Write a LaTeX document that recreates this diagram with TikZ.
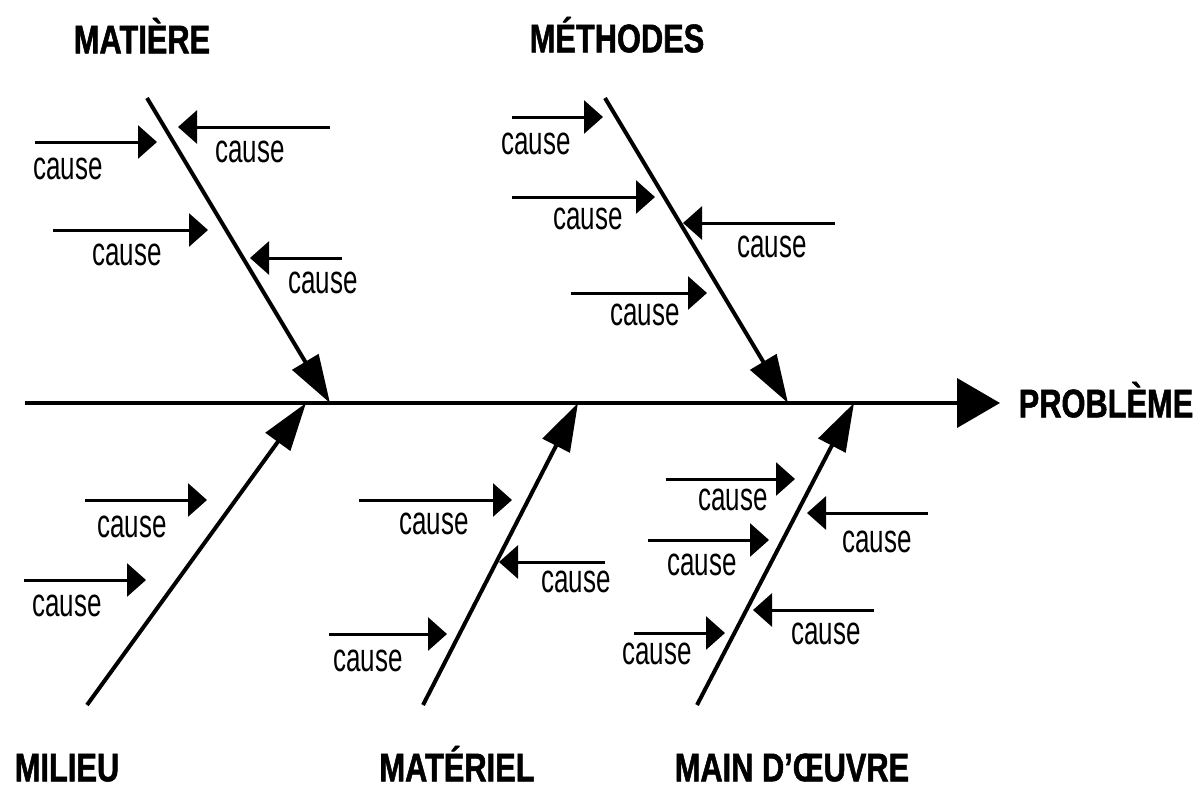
\documentclass[tikz,border=0pt]{standalone}
\usepackage{fontspec}
\usetikzlibrary{arrows.meta}
\newfontfamily\titlefont{Liberation Sans}[FakeStretch=0.77,BoldFeatures={FakeBold=1.3}]
\newfontfamily\causefont{Liberation Sans}[FakeStretch=0.65]
\begin{document}
\begin{tikzpicture}[x=1pt,y=-1pt,
  title/.style={font=\titlefont\bfseries\fontsize{40}{40}\selectfont,inner sep=0pt,text height=28.6pt,text depth=0pt},
  causetxt/.style={font=\causefont\fontsize{40}{40}\selectfont,inner sep=0pt,text height=20.8pt,text depth=0pt},
  spine/.style={line width=4pt,-{Triangle[length=43pt,width=49pt]}},
  bone/.style={line width=4pt,-{Triangle[length=48pt,width=30pt]}},
  small/.style={line width=3pt,-{Triangle[length=19pt,width=33pt]}}]
\useasboundingbox (0,0) rectangle (1203,790);
% spine
\coordinate (s0) at (25,403);
\node[title] (prob) at (1106,403) {PROBLÈME};
\coordinate (s1) at (1000,403);
\draw[spine] (s0) -- (s1);
% bones
\coordinate (b1a) at (147,98);   \coordinate (b1b) at (330,403);
\coordinate (b2a) at (605,98);   \coordinate (b2b) at (788,403);
\coordinate (b3a) at (87,705);   \coordinate (b3b) at (306,403);
\coordinate (b4a) at (423,705);  \coordinate (b4b) at (578,403);
\coordinate (b5a) at (697,705);  \coordinate (b5b) at (854,403);
\draw[bone] (b1a) -- (b1b);
\draw[bone] (b2a) -- (b2b);
\draw[bone] (b3a) -- (b3b);
\draw[bone] (b4a) -- (b4b);
\draw[bone] (b5a) -- (b5b);
% titles
\node[title] (matiere) at (142,39) {MATIÈRE};
\node[title] (methodes) at (617,38) {MÉTHODES};
\node[title] (milieu) at (67,767) {MILIEU};
\node[title] (materiel) at (457,767) {MATÉRIEL};
\node[title] (mo) at (792,767) {MAIN D’ŒUVRE};
% small arrows: start, tip
\foreach \n/\xa/\xb/\yy in {
  a1/35/157/142, a2/330/178/127, a3/53/208/230, a4/342/250/258,
  m1/512/603/117, m2/512/655/197, m3/835/683/223, m4/571/707/293,
  l1/85/207/500, l2/24/146/580,
  t1/359/512/500, t2/605/499/562, t3/329/447/634,
  o1/666/795/479, o2/928/807/513, o3/648/769/540, o4/874/753/610, o5/634/725/633}{
  \coordinate (\n s) at (\xa,\yy);
  \coordinate (\n t) at (\xb,\yy);
  \draw[small] (\n s) -- (\n t);
}
% cause labels
\foreach \n/\xx/\yy in {
  ca1/68/169, ca2/250/152, ca3/127/255, ca4/323/283,
  cm1/536/144, cm2/588/219, cm3/772/247, cm4/645/315,
  cl1/132/527, cl2/67/606,
  ct1/434/524, ct2/576/582, ct3/368/661,
  co1/733/500, co2/877/542, co3/702/565, co4/826/634, co5/657/654}{
  \node[causetxt] (\n) at (\xx,\yy) {cause};
}
\end{tikzpicture}
\end{document}
